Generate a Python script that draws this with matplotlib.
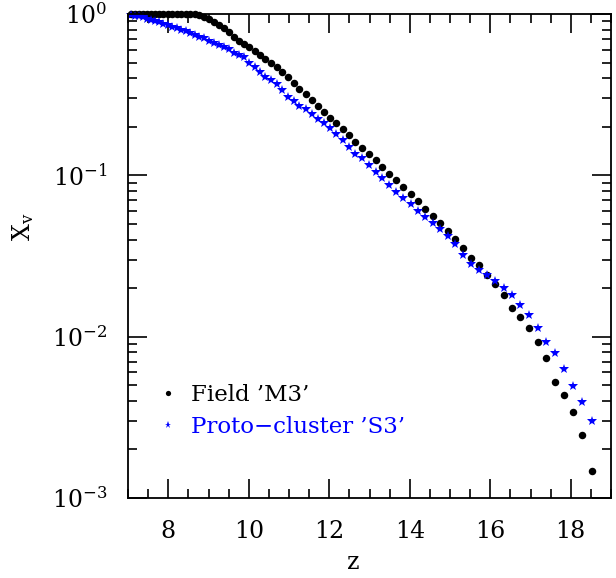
import matplotlib
matplotlib.use("Agg")
import matplotlib.pyplot as plt
from matplotlib.ticker import MultipleLocator, LogLocator, NullFormatter

plt.rcParams['font.family'] = ['DejaVu Serif']
plt.rcParams['mathtext.fontset'] = 'dejavuserif'

# redshift grid (ascending)
z = [7.08, 7.17, 7.27, 7.37, 7.47, 7.57, 7.68, 7.78, 7.88, 7.99,
     8.10, 8.21, 8.32, 8.43, 8.54, 8.66, 8.77, 8.89, 9.01, 9.13,
     9.25, 9.38, 9.50, 9.63, 9.75, 9.88, 10.01, 10.15, 10.28, 10.41,
     10.55, 10.69, 10.83, 10.97, 11.12, 11.26, 11.41, 11.56, 11.71, 11.86,
     12.02, 12.17, 12.33, 12.49, 12.65, 12.81, 12.98, 13.15, 13.32, 13.49,
     13.66, 13.84, 14.02, 14.20, 14.38, 14.57, 14.75, 14.94, 15.13, 15.33,
     15.52, 15.72, 15.92, 16.12, 16.33, 16.54, 16.75, 16.96, 17.18, 17.39,
     17.62, 17.84, 18.06, 18.29, 18.53]

# Field 'M3'
xv_field = [1.0, 1.0, 1.0, 1.0, 1.0, 1.0, 1.0, 1.0, 1.0, 0.999,
            0.999, 0.999, 0.998, 0.998, 0.997, 0.994, 0.985, 0.962, 0.930, 0.895,
            0.858, 0.815, 0.770, 0.725, 0.684, 0.652, 0.622, 0.590, 0.560, 0.526,
            0.497, 0.471, 0.437, 0.405, 0.372, 0.344, 0.318, 0.293, 0.269, 0.246,
            0.2275, 0.211, 0.1936, 0.177, 0.161, 0.1476, 0.136, 0.125, 0.1125, 0.102,
            0.0931, 0.0843, 0.0769, 0.0693, 0.0621, 0.0559, 0.0508, 0.0454, 0.0404, 0.0354,
            0.0309, 0.0277, 0.0242, 0.0212, 0.0181, 0.0151, 0.0132, 0.01125, 0.00929, 0.00733,
            0.00525, 0.00435, 0.00341, 0.00245, 0.00147]

# Proto-cluster 'S3'
xv_proto = [0.983, 0.975, 0.965, 0.954, 0.936, 0.921, 0.905, 0.890, 0.872, 0.852,
            0.834, 0.815, 0.797, 0.780, 0.762, 0.744, 0.724, 0.705, 0.682, 0.661,
            0.641, 0.620, 0.608, 0.5695, 0.5604, 0.5395, 0.4977, 0.4721, 0.4385, 0.4093,
            0.3908, 0.3681, 0.3396, 0.3055, 0.2871, 0.2692, 0.2564, 0.2399, 0.2225, 0.2109,
            0.1963, 0.1800, 0.1655, 0.1493, 0.1352, 0.1274, 0.1166, 0.1047, 0.0958, 0.0871,
            0.0791, 0.0728, 0.0664, 0.0605, 0.0555, 0.0505, 0.0463, 0.0421, 0.0373, 0.0322,
            0.0284, 0.0259, 0.0240, 0.0220, 0.01995, 0.01824, 0.01570, 0.01355, 0.01127, 0.00929,
            0.00791, 0.00634, 0.00498, 0.00392, 0.00299]

labels = ["Field \u2019M3\u2019", "Proto\u2212cluster \u2019S3\u2019"]

fig = plt.figure(figsize=(6.16, 5.78), dpi=100)
ax = fig.add_axes([128/616, 80/578, 483/616, 484/578])

ax.plot(z, xv_field, linestyle='none', marker='o', markersize=5.4,
        color='black', markeredgewidth=0, label=labels[0], clip_on=False)
ax.plot(z, xv_proto, linestyle='none', marker='*', markersize=7.5,
        color='blue', markeredgewidth=0, label=labels[1], clip_on=False)

ax.set_yscale('log')
ax.set_xlim(7, 19)
ax.set_ylim(1e-3, 1)

ax.xaxis.set_major_locator(MultipleLocator(2))
ax.xaxis.set_minor_locator(MultipleLocator(0.5))
ax.yaxis.set_major_locator(LogLocator(base=10))
ax.yaxis.set_minor_locator(LogLocator(base=10, subs=range(2, 10)))
ax.yaxis.set_minor_formatter(NullFormatter())

ax.tick_params(which='both', direction='in', top=True, right=True, width=1.2)
ax.tick_params(which='major', length=13.5, labelsize=17)
ax.tick_params(axis='x', which='major', pad=16)
ax.tick_params(axis='y', which='major', pad=15)
ax.tick_params(which='minor', length=6.5)
for s in ax.spines.values():
    s.set_linewidth(1.3)

ax.set_xlabel('z', fontsize=17)
ax.xaxis.set_label_coords(0.466, -0.11)
ax.set_ylabel(r'X$_{\mathrm{v}}$', fontsize=17)
ax.yaxis.set_label_coords(-0.19, 0.56)

leg = ax.legend(loc='lower left', bbox_to_anchor=(0.045, 0.105), frameon=False,
                fontsize=16.5, handlelength=0.8, handletextpad=0.6, labelspacing=0.45,
                markerscale=0.7, labelcolor=['black', 'blue'], borderaxespad=0)

fig.savefig('out.png', dpi=100)
